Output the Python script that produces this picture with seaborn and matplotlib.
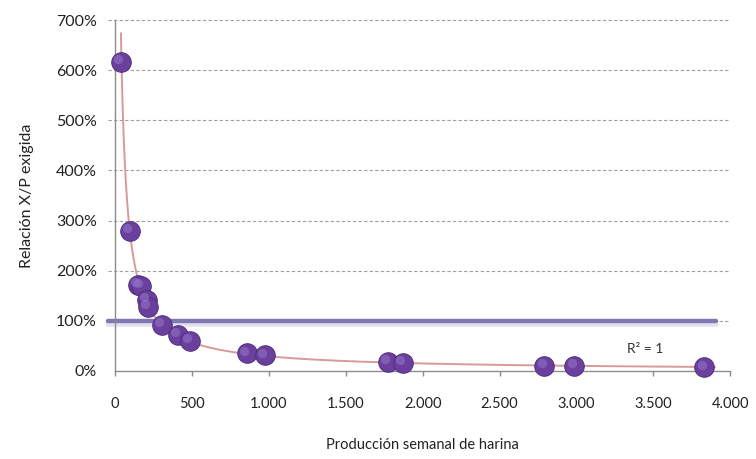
import numpy as np
import pandas as pd
import seaborn as sns
import matplotlib.pyplot as plt
from matplotlib.transforms import offset_copy

# production vs required X/P ratio
produccion = [39, 95, 150, 170, 208, 215, 305, 410, 487, 857, 974, 1773, 1870, 2792, 2987, 3831]
relacion = [6.17, 2.80, 1.72, 1.70, 1.42, 1.28, 0.92, 0.72, 0.60, 0.35, 0.31, 0.18, 0.16, 0.10, 0.10, 0.07]

x_ticks = [0, 500, 1000, 1500, 2000, 2500, 3000, 3500, 4000]
x_tick_labels = ['0', '500', '1.000', '1.500', '2.000', '2.500', '3.000', '3.500', '4.000']
y_ticks = [0, 1, 2, 3, 4, 5, 6, 7]
y_tick_labels = ['0%', '100%', '200%', '300%', '400%', '500%', '600%', '700%']
umbral = 1.0

df = pd.DataFrame({'x': produccion, 'y': relacion})

sns.set_style('white')
plt.rcParams['font.family'] = ['Lato', 'DejaVu Sans']

fig = plt.figure(figsize=(7.56, 4.59), dpi=100)
ax = fig.add_axes([0.152, 0.192, 0.814, 0.764])

# power trend line fitted on the points
b, a = np.polyfit(np.log(df['x']), np.log(df['y']), 1)
xs = np.geomspace(min(produccion), 3900, 300)
trend = pd.DataFrame({'x': xs, 'y': np.exp(a) * xs ** b})

for yv in y_ticks[1:]:
    ax.plot([-45, 4000], [yv, yv], color='#a0a0a0', lw=0.8, ls=(0, (3, 2)),
            zorder=0, clip_on=False)

ax.plot([-45, 3910], [umbral, umbral], color='#e4e1ef', lw=4, zorder=1, clip_on=False,
        transform=offset_copy(ax.transData, fig=fig, x=0, y=-2.5, units='points'))
ax.plot([-45, 3910], [umbral, umbral], color='#7f78b2', lw=3.2, zorder=2, clip_on=False)

sns.lineplot(data=trend, x='x', y='y', color='#d79a98', lw=1.4, ax=ax, zorder=3)

sns.scatterplot(data=df, x='x', y='y', s=200, color='#6a3f9e', edgecolor='#4b2a78',
                linewidth=0.6, ax=ax, zorder=4, clip_on=False)
hl = offset_copy(ax.transData, fig=fig, x=-2, y=2, units='points')
ax.scatter(df['x'], df['y'], s=45, color='#9274c4', alpha=0.6, linewidth=0,
           transform=hl, zorder=5, clip_on=False)

ax.text(3330, 0.44, 'R² = 1', fontsize=10, color='#333333', ha='left', va='center')

ax.set_xlim(0, 4000)
ax.set_ylim(0, 7)
ax.set_xticks(x_ticks)
ax.set_xticklabels(x_tick_labels)
ax.set_yticks(y_ticks)
ax.set_yticklabels(y_tick_labels)
ax.tick_params(axis='x', labelsize=10.5, labelcolor='#222222', color='#8c8c8c',
               direction='out', length=3.5, width=1, pad=15, bottom=True)
ax.tick_params(axis='y', labelsize=11.5, colors='#222222', length=0, pad=13)

for s in ['top', 'right']:
    ax.spines[s].set_visible(False)
for s in ['left', 'bottom']:
    ax.spines[s].set_color('#8c8c8c')
    ax.spines[s].set_linewidth(1)

ax.set_xlabel('Producción semanal de harina', fontsize=10.5, labelpad=20, color='#222222')
ax.set_ylabel('Relación X/P exigida', fontsize=11.5, labelpad=16, color='#222222')

fig.savefig('out.png', dpi=100)
